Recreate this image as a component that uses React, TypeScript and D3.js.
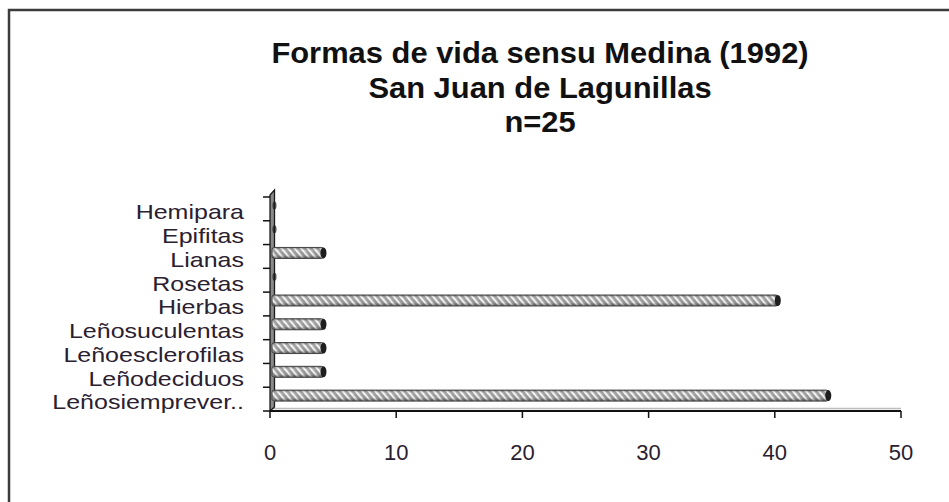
import React from "react";
import * as d3 from "d3";

const categories = [
  "Leñosiemprever..",
  "Leñodeciduos",
  "Leñoesclerofilas",
  "Leñosuculentas",
  "Hierbas",
  "Rosetas",
  "Lianas",
  "Epifitas",
  "Hemipara",
];
const values = [44, 4, 4, 4, 40, 0, 4, 0, 0];
const xTicks = [0, 10, 20, 30, 40, 50];
const titleLines = ["Formas de vida sensu Medina (1992)", "San Juan de Lagunillas", "n=25"];

const W = 949;
const H = 502;
const FONT = "Arial, 'Liberation Sans', sans-serif";
const TEXT = "#2a2030";

export default function App() {
  const x = d3.scaleLinear().domain([0, 50]).range([270, 901]);
  const y = d3
    .scaleBand<string>()
    .domain([...categories].reverse())
    .range([197, 411])
    .padding(0);
  const bw = y.bandwidth();
  const axisY = 411;
  const depthX = 3;
  const depthY = 3.5;
  const barH = 11;
  const boundaries = d3.range(categories.length + 1).map((i) => 197 + i * bw);

  return (
    <div style={{ position: "absolute", left: 0, top: 0 }}>
      <svg width={W} height={H} style={{ display: "block", background: "#fff" }}>
        <defs>
          <pattern id="hatch" width="5" height="5" patternUnits="userSpaceOnUse" patternTransform="rotate(-40)">
            <rect width="5" height="5" fill="#9a9a9a" />
            <rect x="0" y="0" width="2.2" height="5" fill="#f6f6f6" />
          </pattern>
          <linearGradient id="shade" x1="0" y1="0" x2="0" y2="1">
            <stop offset="0" stopColor="#000" stopOpacity="0.4" />
            <stop offset="0.3" stopColor="#fff" stopOpacity="0.1" />
            <stop offset="0.7" stopColor="#000" stopOpacity="0.05" />
            <stop offset="1" stopColor="#000" stopOpacity="0.5" />
          </linearGradient>
        </defs>

        {/* outer frame */}
        <rect x={9} y={10} width={1000} height={600} fill="none" stroke="#3c3c3c" strokeWidth={2.5} />

        {/* title */}
        {titleLines.map((t, i) => (
          <text
            key={t}
            transform={`translate(540, ${63 + i * 34.5}) scale(1.03, 1)`}
            textAnchor="middle"
            fontFamily={FONT}
            fontWeight="bold"
            fontSize={30}
            fill="#111"
          >
            {t}
          </text>
        ))}

        {/* floor */}
        <line x1={x(0)} x2={x(50)} y1={axisY - 2.5} y2={axisY - 2.5} stroke="#bbb" strokeWidth={1.5} />

        {/* wall */}
        <path
          d={`M${x(0)},${axisY} L${x(0)},${197 - 2} L${x(0) + 4.5},${190} L${x(0) + 4.5},${axisY - 4} Z`}
          fill="#8a8a8a"
          stroke="#1a1a1a"
          strokeWidth={1.3}
        />

        {/* category ticks */}
        {boundaries.map((b, i) => (
          <line key={i} x1={x(0) - 7} x2={x(0)} y1={b} y2={b} stroke="#111" strokeWidth={1.5} />
        ))}

        {/* bars */}
        {categories.map((c, i) => {
          const v = values[i];
          const cy = (y(c) as number) + bw / 2 - depthY;
          const x0 = x(0) + 2;
          const x1 = x(v) + depthX;
          return (
            <g key={c}>
              {v > 0 && (
                <>
                  <rect x={x0} y={cy - barH / 2} width={x1 - x0} height={barH} fill="url(#hatch)" />
                  <rect
                    x={x0}
                    y={cy - barH / 2}
                    width={x1 - x0}
                    height={barH}
                    fill="url(#shade)"
                    stroke="#444"
                    strokeWidth={1}
                    rx={2}
                  />
                </>
              )}
              <ellipse
                cx={v > 0 ? x1 : x0 + 2.5}
                cy={cy}
                rx={v > 0 ? 3 : 2}
                ry={v > 0 ? barH / 2 : barH / 2 - 1.5}
                fill="#1e1e1e"
                opacity={v > 0 ? 1 : 0.75}
              />
            </g>
          );
        })}

        {/* x axis */}
        <line x1={x(0)} x2={x(50)} y1={axisY} y2={axisY} stroke="#111" strokeWidth={2} />
        {xTicks.map((t) => (
          <g key={t}>
            <line x1={x(t)} x2={x(t)} y1={axisY} y2={axisY + 7} stroke="#111" strokeWidth={1.5} />
            <text
              x={x(t)}
              y={axisY + 41}
              textAnchor="middle"
              dominantBaseline="central"
              fontFamily={FONT}
              fontSize={22}
              fill={TEXT}
            >
              {t}
            </text>
          </g>
        ))}

        {/* category labels */}
        {categories.map((c) => (
          <text
            key={c}
            transform={`translate(244, ${(y(c) as number) + bw / 2 + 3}) scale(1.19, 1)`}
            textAnchor="end"
            dominantBaseline="central"
            fontFamily={FONT}
            fontSize={21}
            fill={TEXT}
          >
            {c}
          </text>
        ))}
      </svg>
    </div>
  );
}
